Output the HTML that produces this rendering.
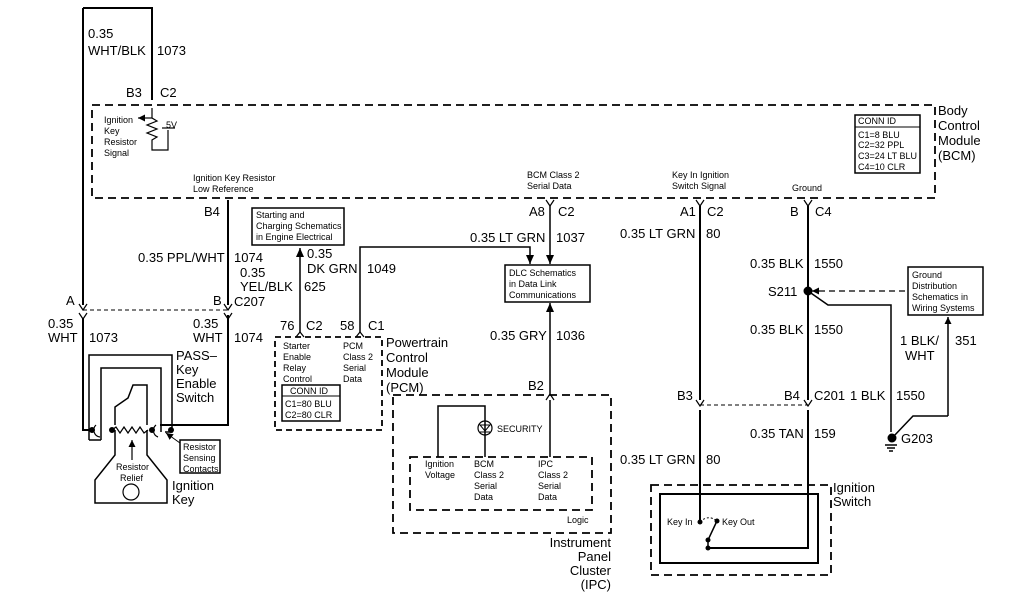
<!DOCTYPE html>
<html><head><style>
html,body{margin:0;padding:0;background:#fff;}
svg{display:block;font-family:"Liberation Sans",Arial,sans-serif;}
text{fill:#000;}
.s{font-size:9px;}
.m{font-size:13px;}
</style></head><body>
<svg width="1024" height="600" viewBox="0 0 1024 600" xmlns="http://www.w3.org/2000/svg">
<defs>
<marker id="ar" markerUnits="userSpaceOnUse" markerWidth="10" markerHeight="10" refX="9" refY="4" orient="auto"><path d="M0,0 L9,4 L0,8 z" fill="#000"/></marker>
<marker id="as" markerUnits="userSpaceOnUse" markerWidth="8" markerHeight="8" refX="7" refY="3.5" orient="auto"><path d="M0,0 L7,3.5 L0,7 z" fill="#000"/></marker>
</defs>
<g stroke="#000" fill="none" stroke-width="2">
<rect x="92" y="105" width="843" height="93" stroke-dasharray="8,5" stroke-width="1.8"/>
<path d="M83,8 H152 V100"/>
<path d="M83,8 V305"/>
<path d="M152,108 V118 l5,3 -10,4 10,4 -10,4 10,4 -5,3 V150 H168 V130" stroke-width="1.2"/>
<path d="M152,118 H138" stroke-width="1.2" marker-end="url(#as)"/>
<path d="M162,128 H175" stroke-width="1.2"/>
<rect x="855" y="115" width="65" height="58" stroke-width="1.5"/>
<line x1="855" y1="127" x2="920" y2="127" stroke-width="1"/>
<path d="M228,200 V305"/>
<path d="M228,315 V425 H160"/>
<path d="M83,310 H228" stroke-dasharray="4,3" stroke-width="1"/>
<path d="M79,304 l4,6 4,-6 M224,304 l4,6 4,-6 M79,313 l4,6 4,-6 M224,313 l4,6 4,-6" stroke-width="1.2"/>
<path d="M83,318 V430 H92"/>
<path d="M89,440 V355 H172 V432 H165" stroke-width="1.5"/>
<path d="M101,440 H89 M101,440 V368 H161 V432" stroke-width="1.5"/>
<path d="M115,425 V407 L128,398 L133,385 H147 V425" stroke-width="1.5"/>
<path d="M115,430 V455 L95,480 V503 H167 V480 L147,455 V430" stroke-width="1.5"/>
<circle cx="131" cy="492" r="8" stroke-width="1.2"/>
<path d="M112,430 l4,-3 4,6 4,-6 4,6 4,-6 4,6 4,-6 4,6 4,-3" stroke-width="1.2"/>
<path d="M132,460 V440" stroke-width="1.2" marker-end="url(#as)"/>
<path d="M96,425 a7,7 0 0 0 4,12 M156,425 a7,7 0 0 0 2,12" stroke-width="1.2"/>
<circle cx="92" cy="430" r="2" fill="#000"/><circle cx="112" cy="430" r="2" fill="#000"/><circle cx="152" cy="430" r="2" fill="#000"/><circle cx="171" cy="430" r="2" fill="#000"/>
<path d="M180,443 L166,433" stroke-width="1" marker-end="url(#as)"/>
<rect x="180" y="440" width="40" height="33" stroke-width="1.5"/>
<rect x="252" y="208" width="92" height="37" stroke-width="1.5"/>
<path d="M300,332 V248" stroke-width="1.5" marker-end="url(#ar)"/>
<path d="M360,332 V247 H530 V264" stroke-width="1.5" marker-end="url(#ar)"/>
<path d="M275,337 H382 V430 H275 Z" stroke-dasharray="6,4" stroke-width="1.8"/>
<path d="M296,337 l4,-5 4,5 M356,337 l4,-5 4,5" stroke-width="1.2"/>
<rect x="282" y="385" width="58" height="36" stroke-width="1.5"/>
<line x1="282" y1="396" x2="340" y2="396" stroke-width="1"/>
<path d="M550,206 V264" stroke-width="1.5" marker-end="url(#ar)"/>
<path d="M546,200 l4,6 4,-6" stroke-width="1.2"/>
<rect x="505" y="265" width="85" height="37" stroke-width="1.5"/>
<path d="M550,395 V303" stroke-width="1.5" marker-end="url(#ar)"/>
<path d="M546,400 l4,-6 4,6" stroke-width="1.2"/>
<rect x="393" y="395" width="218" height="138" stroke-dasharray="8,5" stroke-width="1.8"/>
<rect x="410" y="457" width="182" height="53" stroke-dasharray="8,5" stroke-width="1.8"/>
<path d="M438,457 V406 H485 V457" stroke-width="1.5"/>
<path d="M550,457 V400" stroke-width="1.5"/>
<circle cx="485" cy="428" r="7" stroke-width="1.2"/>
<path d="M480,425 h10 l-5,6 z M480,432 h10" stroke-width="1"/>
<path d="M700,206 V400 M700,410 V522"/>
<path d="M696,200 l4,6 4,-6 M696,400 l4,6 4,-6" stroke-width="1.2"/>
<path d="M700,405 H808" stroke-dasharray="4,3" stroke-width="1"/>
<path d="M808,206 V400 M808,410 V548 H708"/>
<path d="M804,200 l4,6 4,-6 M804,400 l4,6 4,-6" stroke-width="1.2"/>
<circle cx="808" cy="291" r="3.5" fill="#000"/>
<path d="M808,291 L828,305 H891 V432" stroke-width="1.5"/>
<path d="M885,445 h12 M887,448 h8 M889,451 h4" stroke-width="1.5"/>
<circle cx="892" cy="438" r="3.5" fill="#000"/>
<path d="M905,291 H812" stroke-dasharray="6,4" stroke-width="1.2" marker-end="url(#as)"/>
<rect x="908" y="267" width="75" height="48" stroke-width="1.5"/>
<path d="M948,416 V317" stroke-width="1.5" marker-end="url(#as)"/>
<path d="M948,416 H913 L893,437" stroke-width="1.5"/>
<rect x="651" y="485" width="180" height="90" stroke-dasharray="8,5" stroke-width="1.8"/>
<rect x="660" y="494" width="158" height="69" stroke-width="2"/>
<path d="M708,548 V540 L716,523" stroke-width="1.5"/>
<path d="M700,522 q8,-8 17,-1" stroke-dasharray="2,2" stroke-width="1"/>
</g>
<g fill="#000">
<circle cx="700" cy="522" r="2.5"/><circle cx="717" cy="521" r="2.5"/><circle cx="708" cy="540" r="2.5"/><circle cx="708" cy="548" r="2.5"/>
</g>
<text class="m" x="88" y="38">0.35</text>
<text class="m" x="88" y="55">WHT/BLK</text>
<text class="m" x="157" y="55">1073</text>
<text class="m" x="126" y="97">B3</text><text class="m" x="160" y="97">C2</text>
<text class="s" x="104" y="123">Ignition</text><text class="s" x="104" y="134">Key</text><text class="s" x="104" y="145">Resistor</text><text class="s" x="104" y="156">Signal</text>
<text class="s" x="166" y="128">5V</text>
<text class="s" x="858" y="124">CONN ID</text>
<text class="s" x="858" y="138">C1=8 BLU</text><text class="s" x="858" y="148">C2=32 PPL</text><text class="s" x="858" y="159">C3=24 LT BLU</text><text class="s" x="858" y="170">C4=10 CLR</text>
<text class="m" x="938" y="115">Body</text><text class="m" x="938" y="130">Control</text><text class="m" x="938" y="145">Module</text><text class="m" x="938" y="160">(BCM)</text>
<text class="s" x="193" y="181">Ignition Key Resistor</text><text class="s" x="193" y="192">Low Reference</text>
<text class="s" x="527" y="178">BCM Class 2</text><text class="s" x="527" y="189">Serial Data</text>
<text class="s" x="672" y="178">Key In Ignition</text><text class="s" x="672" y="189">Switch Signal</text>
<text class="s" x="792" y="191">Ground</text>
<text class="m" x="204" y="216">B4</text>
<text class="m" x="529" y="216">A8</text><text class="m" x="558" y="216">C2</text>
<text class="m" x="680" y="216">A1</text><text class="m" x="707" y="216">C2</text>
<text class="m" x="790" y="216">B</text><text class="m" x="815" y="216">C4</text>
<text class="s" x="256" y="218">Starting and</text><text class="s" x="256" y="229">Charging Schematics</text><text class="s" x="256" y="240">in Engine Electrical</text>
<text class="m" x="470" y="242">0.35 LT GRN</text><text class="m" x="556" y="242">1037</text>
<text class="m" x="620" y="238">0.35 LT GRN</text><text class="m" x="706" y="238">80</text>
<text class="m" x="138" y="262">0.35 PPL/WHT</text><text class="m" x="234" y="262">1074</text>
<text class="m" x="307" y="258">0.35</text><text class="m" x="307" y="273">DK GRN</text><text class="m" x="367" y="273">1049</text>
<text class="m" x="240" y="277">0.35</text><text class="m" x="240" y="291">YEL/BLK</text><text class="m" x="304" y="291">625</text>
<text class="m" x="234" y="306">C207</text>
<text class="m" x="750" y="268">0.35 BLK</text><text class="m" x="814" y="268">1550</text>
<text class="s" x="509" y="276">DLC Schematics</text><text class="s" x="509" y="287">in Data Link</text><text class="s" x="509" y="298">Communications</text>
<text class="s" x="912" y="278">Ground</text><text class="s" x="912" y="289">Distribution</text><text class="s" x="912" y="300">Schematics in</text><text class="s" x="912" y="311">Wiring Systems</text>
<text class="m" x="768" y="296">S211</text>
<text class="m" x="66" y="305">A</text><text class="m" x="213" y="305">B</text>
<text class="m" x="48" y="328">0.35</text><text class="m" x="48" y="342">WHT</text><text class="m" x="89" y="342">1073</text>
<text class="m" x="193" y="328">0.35</text><text class="m" x="193" y="342">WHT</text><text class="m" x="234" y="342">1074</text>
<text class="m" x="280" y="330">76</text><text class="m" x="306" y="330">C2</text>
<text class="m" x="340" y="330">58</text><text class="m" x="368" y="330">C1</text>
<text class="m" x="386" y="347">Powertrain</text><text class="m" x="386" y="362">Control</text><text class="m" x="386" y="377">Module</text><text class="m" x="386" y="392">(PCM)</text>
<text class="s" x="283" y="349">Starter</text><text class="s" x="283" y="360">Enable</text><text class="s" x="283" y="371">Relay</text><text class="s" x="283" y="382">Control</text>
<text class="s" x="343" y="349">PCM</text><text class="s" x="343" y="360">Class 2</text><text class="s" x="343" y="371">Serial</text><text class="s" x="343" y="382">Data</text>
<text class="s" x="290" y="394">CONN ID</text><text class="s" x="285" y="407">C1=80 BLU</text><text class="s" x="285" y="418">C2=80 CLR</text>
<text class="m" x="490" y="340">0.35 GRY</text><text class="m" x="556" y="340">1036</text>
<text class="m" x="750" y="334">0.35 BLK</text><text class="m" x="814" y="334">1550</text>
<text class="m" x="900" y="345">1 BLK/</text><text class="m" x="905" y="360">WHT</text><text class="m" x="955" y="345">351</text>
<text class="m" x="176" y="360">PASS–</text><text class="m" x="176" y="374">Key</text><text class="m" x="176" y="388">Enable</text><text class="m" x="176" y="402">Switch</text>
<text class="m" x="528" y="390">B2</text>
<text class="m" x="677" y="400">B3</text><text class="m" x="784" y="400">B4</text><text class="m" x="814" y="400">C201</text><text class="m" x="850" y="400">1 BLK</text><text class="m" x="896" y="400">1550</text>
<text class="m" x="750" y="438">0.35 TAN</text><text class="m" x="814" y="438">159</text>
<text class="m" x="901" y="443">G203</text>
<text class="s" x="497" y="432">SECURITY</text>
<text class="s" x="183" y="450">Resistor</text><text class="s" x="183" y="461">Sensing</text><text class="s" x="183" y="472">Contacts</text>
<text class="s" x="425" y="467">Ignition</text><text class="s" x="425" y="478">Voltage</text>
<text class="s" x="474" y="467">BCM</text><text class="s" x="474" y="478">Class 2</text><text class="s" x="474" y="489">Serial</text><text class="s" x="474" y="500">Data</text>
<text class="s" x="538" y="467">IPC</text><text class="s" x="538" y="478">Class 2</text><text class="s" x="538" y="489">Serial</text><text class="s" x="538" y="500">Data</text>
<text class="m" x="620" y="464">0.35 LT GRN</text><text class="m" x="706" y="464">80</text>
<text class="s" x="116" y="470">Resistor</text><text class="s" x="120" y="481">Relief</text>
<text class="m" x="172" y="490">Ignition</text><text class="m" x="172" y="504">Key</text>
<text class="m" x="833" y="492">Ignition</text><text class="m" x="833" y="506">Switch</text>
<text class="s" x="567" y="523">Logic</text>
<text class="s" x="667" y="525">Key In</text><text class="s" x="722" y="525">Key Out</text>
<text class="m" x="611" y="547" text-anchor="end">Instrument</text><text class="m" x="611" y="561" text-anchor="end">Panel</text><text class="m" x="611" y="575" text-anchor="end">Cluster</text><text class="m" x="611" y="589" text-anchor="end">(IPC)</text>
</svg>
</body></html>
